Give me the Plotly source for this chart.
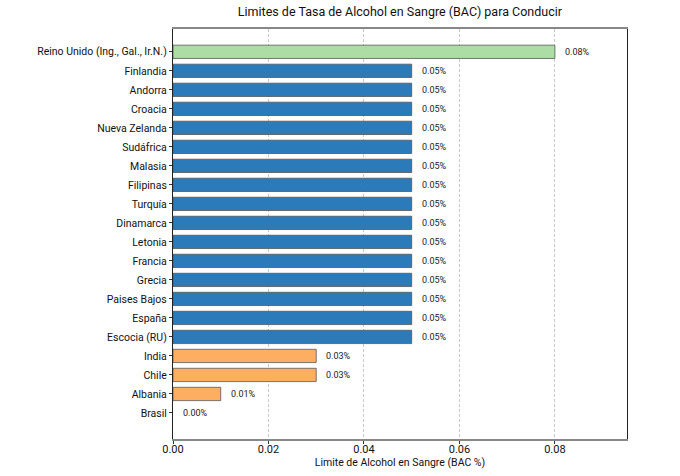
import plotly.graph_objects as go

countries = ["Reino Unido (Ing., Gal., Ir.N.)", "Finlandia", "Andorra", "Croacia", "Nueva Zelanda",
             "Sudáfrica", "Malasia", "Filipinas", "Turquía", "Dinamarca", "Letonia", "Francia",
             "Grecia", "Paises Bajos", "España", "Escocia (RU)", "India", "Chile", "Albania", "Brasil"]
bac = [0.08, 0.05, 0.05, 0.05, 0.05, 0.05, 0.05, 0.05, 0.05, 0.05, 0.05, 0.05,
       0.05, 0.05, 0.05, 0.05, 0.03, 0.03, 0.01, 0.00]
labels = ["0.08%"] + ["0.05%"] * 15 + ["0.03%", "0.03%", "0.01%", "0.00%"]

def color_for(v):
    if v >= 0.08:
        return "#abdda4"
    if v >= 0.05:
        return "#2b7bba"
    return "#fdae61"

colors = [color_for(v) for v in bac]
line_widths = [1 if v > 0 else 0 for v in bac]

font = "Roboto, Open Sans, sans-serif"

fig = go.Figure()
fig.add_trace(go.Bar(
    x=bac, y=countries, orientation="h", width=0.7,
    marker=dict(color=colors, line=dict(color="rgba(80,80,80,0.75)", width=line_widths)),
    hoverinfo="skip",
))
for c, v, t in zip(countries, bac, labels):
    fig.add_annotation(x=v, y=c, text=t, showarrow=False, xanchor="left", xshift=8,
                       font=dict(size=9, color="#222", family=font))

fig.update_layout(
    width=680, height=476,
    margin=dict(l=173, r=53, t=29, b=37, autoexpand=False),
    paper_bgcolor="white", plot_bgcolor="white",
    showlegend=False,
    title=dict(text="Limites de Tasa de Alcohol en Sangre (BAC) para Conducir",
               x=0.5881, xanchor="center", y=0.975, yanchor="middle",
               font=dict(size=12.5, color="#111", family=font)),
    font=dict(family=font, color="#111"),
)
fig.update_xaxes(
    range=[0, 0.0951], tickvals=[0, 0.02, 0.04, 0.06, 0.08],
    ticktext=["0.00", "0.02", "0.04", "0.06", "0.08"],
    showgrid=True, gridcolor="#c8c8c8", griddash="3px,2px", gridwidth=1,
    showline=True, linecolor="#888", linewidth=1.5, mirror=True,
    ticks="outside", ticklen=3, tickcolor="#333", ticklabelstandoff=-4,
    tickfont=dict(size=11), zeroline=False, automargin=False,
    title=dict(text="Limite de Alcohol en Sangre (BAC %)", font=dict(size=10.5), standoff=3),
)
fig.update_yaxes(
    autorange=False, range=[-1.37, 20.2], categoryorder="array",
    categoryarray=list(reversed(countries)),
    showline=True, linecolor="#222", linewidth=1.2, mirror=True,
    ticks="outside", ticklen=3, tickcolor="#333", automargin=False,
    tickfont=dict(size=10.5), showgrid=False,
)
fig.write_html("out.html")
